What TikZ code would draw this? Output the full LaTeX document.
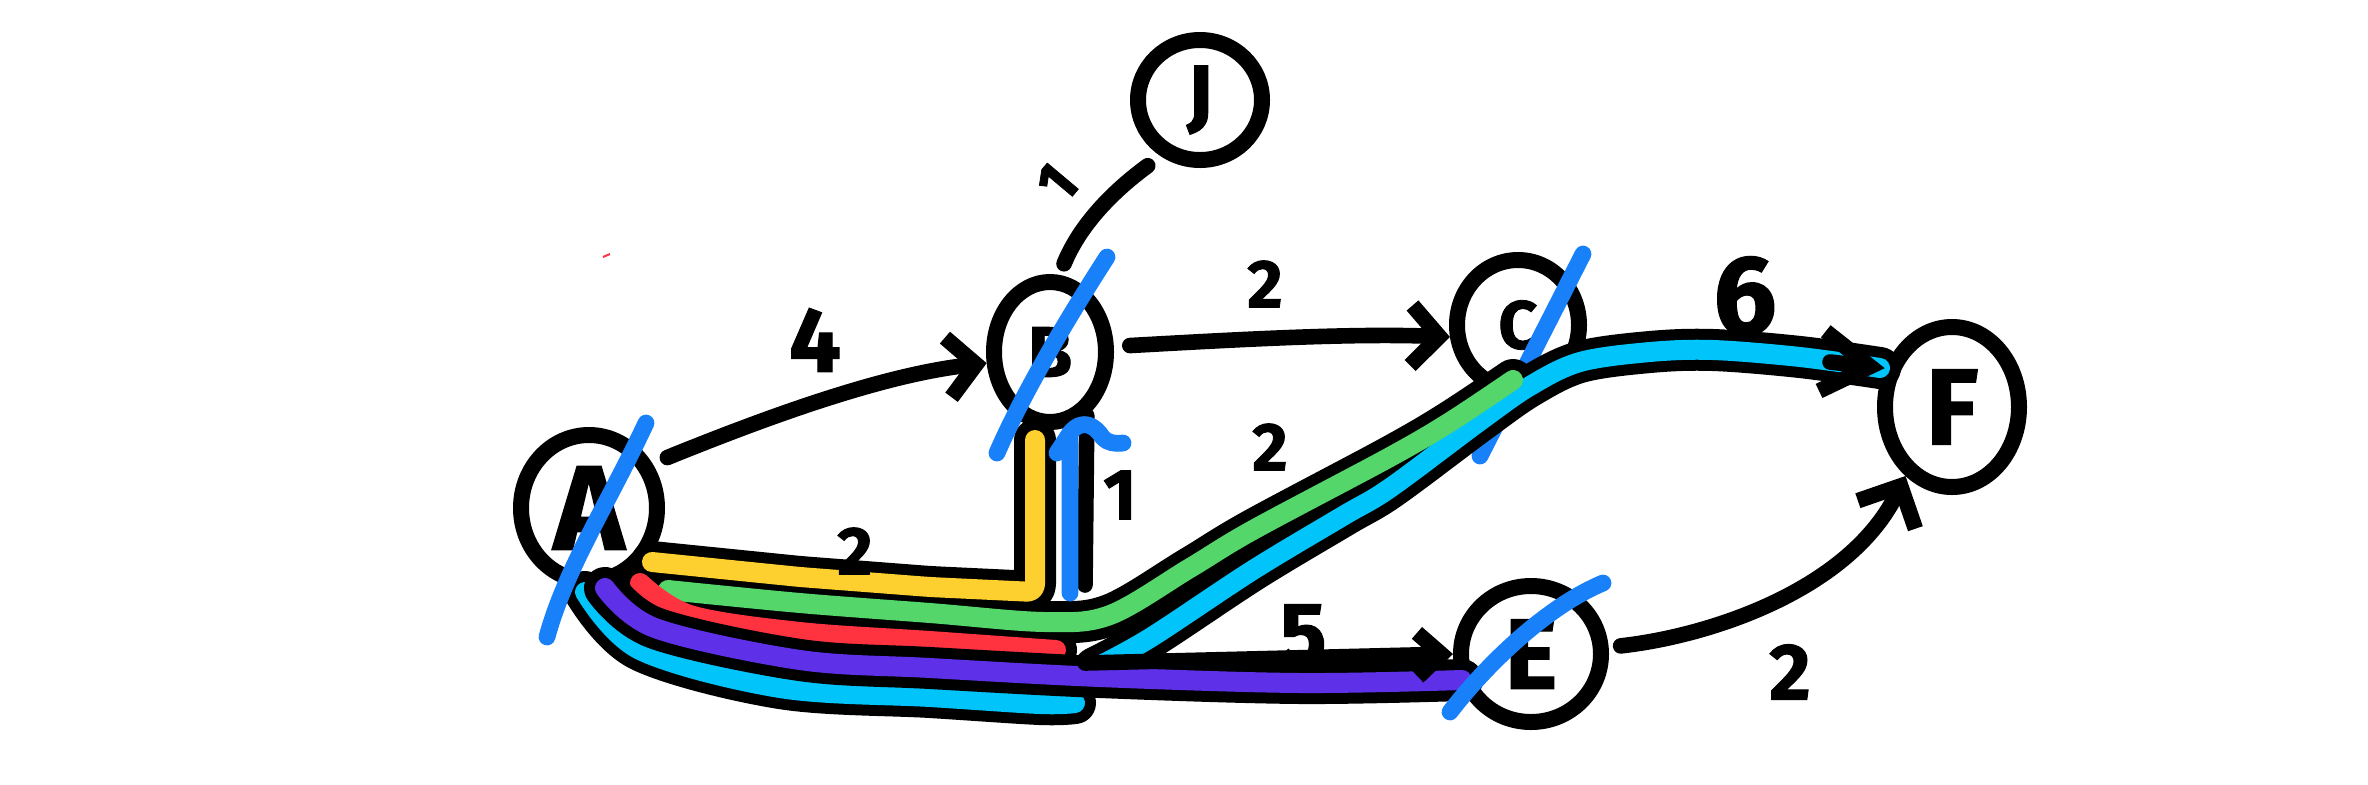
\documentclass[tikz,border=0pt]{standalone}
\usepackage{fontspec}
\setmainfont{Fira Sans}
\newfontfamily\hand{Fira Sans}[BoldFeatures={FakeBold=1.2}]
\usetikzlibrary{arrows.meta,shapes.geometric}
\definecolor{bcyan}{RGB}{0,196,250}
\definecolor{bgreen}{RGB}{84,214,106}
\definecolor{bred}{RGB}{255,50,64}
\definecolor{bpurple}{RGB}{94,48,232}
\definecolor{byellow}{RGB}{253,208,48}
\definecolor{bstrike}{RGB}{24,128,248}
\newcommand{\fsz}[1]{\fontsize{#1}{#1}\selectfont}
\begin{document}
\begin{tikzpicture}[x=0.25pt,y=-0.25pt,
 vert/.style={ellipse, draw=black, line width=4pt, inner sep=0pt, font=\hand\bfseries},
 edge/.style={draw=black, line width=3.9pt, line cap=round, line join=round},
 barb/.style={-{Straight Barb[length=7pt,width=15pt]}},
 bandk/.style={draw=black, line width=10.5pt, line cap=round, line join=round},
 bandc/.style={draw=#1, line width=5pt, line cap=round, line join=round},
 strk/.style={draw=bstrike, line width=4.2pt, line cap=round, line join=round},
 lab/.style={font=\hand\bfseries, inner sep=0pt}
]
\useasboundingbox (0,0) rectangle (2368,784);

% nodes
\node[vert, minimum width=34pt, minimum height=36.5pt] (A) at (589,508) {\fsz{30}A};
\node[vert, minimum width=28pt, minimum height=35pt] (B) at (1050,352) {\fsz{18}B};
\node[vert, minimum width=31pt, minimum height=30pt] (J) at (1200,100) {\fsz{20}J};
\node[vert, minimum width=30.5pt, minimum height=32.5pt] (C) at (1518,325) {\fsz{17}C};
\node[vert, minimum width=35pt, minimum height=34pt] (E) at (1531,654) {\fsz{25}E};
\node[vert, minimum width=33.5pt, minimum height=40pt] (F) at (1952,407) {\fsz{27}F};

% plain edges
\draw[edge, barb, shorten <=4pt] (A.35) .. controls (760,420) and (880,375) .. (B.190);
\draw[edge, barb, shorten <=4pt] (B.5) .. controls (1230,340) and (1350,333) .. (C.190);
\draw[edge, shorten <=3pt, shorten >=4pt] (B.83) .. controls (1080,225) and (1112,192) .. (J.235);
\draw[edge, -{Straight Barb[length=8pt,width=16pt]}, shorten <=3pt] (E.5) .. controls (1710,636) and (1850,590) .. (F.236);

% strike through C (partly hidden by the bands)
\draw[strk] (1480,456) -- (1583,254);

% highlighted paths: black borders
\draw[bandk] plot[smooth,tension=0.55] coordinates {(585,592) (640,650) (780,688) (930,697) (1040,704) (1075,703)};
\draw[bandk] plot[smooth,tension=0.55] coordinates {(1095,668) (1150,638) (1253,570) (1343,516) (1390,488) (1480,421) (1530,386) (1580,362) (1650,352) (1713,350) (1800,357) (1880,368)};
\draw[bandk, rounded corners=2pt] (652,562) -- (800,577) -- (930,587) -- (1035,592) -- (1035,440);
\draw[bandk] plot[smooth,tension=0.55] coordinates {(668,590) (800,603) (930,613) (1045,622) (1110,615) (1190,568) (1253,530) (1390,457) (1450,422) (1513,380)};
\draw[bandk] plot[smooth,tension=0.55] coordinates {(640,583) (690,615) (800,632) (930,641) (1056,650)};

% highlighted paths: colours
\draw[bandc=bcyan] plot[smooth,tension=0.55] coordinates {(585,592) (640,650) (780,688) (930,697) (1040,704) (1075,703)};
\draw[bandc=bcyan] plot[smooth,tension=0.55] coordinates {(1095,668) (1150,638) (1253,570) (1343,516) (1390,488) (1480,421) (1530,386) (1580,362) (1650,352) (1713,350) (1800,357) (1880,368)};
\draw[bandc=byellow, rounded corners=2pt] (652,562) -- (800,577) -- (930,587) -- (1035,592) -- (1035,440);
\draw[bandc=bgreen] plot[smooth,tension=0.55] coordinates {(668,590) (800,603) (930,613) (1045,622) (1110,615) (1190,568) (1253,530) (1390,457) (1450,422) (1513,380)};
\draw[bandc=bred] plot[smooth,tension=0.55] coordinates {(640,583) (690,615) (800,632) (930,641) (1056,650)};

% purple path on top
\draw[bandk] plot[smooth,tension=0.55] coordinates {(605,588) (655,628) (800,660) (930,668) (1100,677) (1300,683) (1462,680)};
\draw[bandc=bpurple] plot[smooth,tension=0.55] coordinates {(605,588) (655,628) (800,660) (930,668) (1100,677) (1300,683) (1462,680)};

% edges over the bands
\coordinate (v1) at (1085,585);
\draw[edge] (B.300) -- (v1);
\coordinate (c5) at (1085,663);
\draw[edge, -{Straight Barb[length=6pt,width=11pt]}] (c5) -- (E.180);
\coordinate (cf) at (1830,362);
\draw[edge, -{Straight Barb[length=12pt,width=15pt]}] (cf) -- (F.150);

% weights
\node[lab] (w4) at (815,340) {\fsz{23}4};
\node[lab] (w2a) at (1265,284) {\fsz{17}2};
\node[lab, rotate=50] (w1a) at (1057,183) {\fsz{15}1};
\node[lab] (w6) at (1745,296) {\fsz{28}6};
\node[lab] (w2b) at (1270,447) {\fsz{17}2};
\node[lab] (w2c) at (855,551) {\fsz{17}2};
\node[lab] (w1b) at (1120,495) {\fsz{18}1};
\node[lab] (w5) at (1303,635) {\fsz{22}5};
\node[lab] (w2d) at (1790,672) {\fsz{20}2};

% strikes over visited nodes
\draw[strk] (547,637) .. controls (565,570) and (610,500) .. (646,423);
\draw[strk] (997,453) .. controls (1020,400) and (1060,330) .. (1107,257);
\draw[strk] (1450,712) .. controls (1490,660) and (1550,605) .. (1603,583);
\draw[strk] (1070,593) -- (1070,433) .. controls (1082,418) and (1095,425) .. (1103,438) .. controls (1108,443) and (1115,444) .. (1123,443);
\draw[strk] (1057,453) -- (1070,433);

% stray mark
\draw[bred, line width=0.5pt] (603,257) -- (610,254);
\end{tikzpicture}
\end{document}
